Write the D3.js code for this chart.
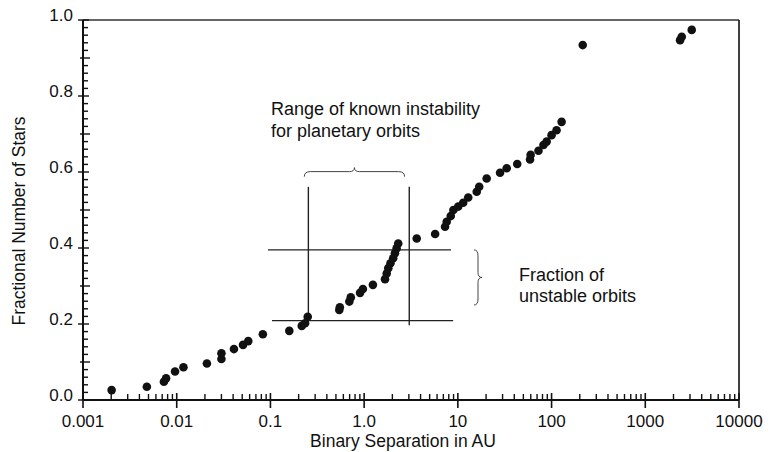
<!DOCTYPE html>
<html lang="en">
<head>
    <meta charset="UTF-8">
    <title>Binary Separation vs Fractional Number of Stars</title>
    <script src="https://d3js.org/d3.v7.min.js"></script>
    <style>
        body {
            margin: 0;
            background: #fff;
        }
        svg text {
            font-family: 'Liberation Sans', Arial, Helvetica, sans-serif;
            fill: #111;
        }
    </style>
</head>
<body>
    <div id="chart"></div>

    <script>
        // Data
        const separations = [
            0.00202, 0.0048, 0.0073, 0.0077, 0.0096, 0.0118, 0.021, 0.030, 0.030, 0.0408,
            0.051, 0.058, 0.083, 0.159, 0.216, 0.234, 0.25, 0.543, 0.55, 0.695,
            0.72, 0.904, 0.97, 1.24, 1.67, 1.74, 1.81, 1.91, 2.04, 2.13,
            2.22, 2.31, 3.64, 5.72, 7.3, 7.6, 8.4, 8.96, 10.1, 11.4,
            12.9, 15.9, 16.9, 20.3, 28.2, 33.2, 43, 58.9, 59.8, 72.5,
            81.9, 88.6, 100, 113, 128, 215, 2350, 2450, 3130
        ];
        const fractions = [
            0.026, 0.035, 0.048, 0.057, 0.075, 0.086, 0.096, 0.108, 0.123, 0.134,
            0.145, 0.155, 0.173, 0.182, 0.195, 0.202, 0.219, 0.237, 0.244, 0.259,
            0.270, 0.282, 0.292, 0.303, 0.318, 0.333, 0.347, 0.360, 0.373, 0.386,
            0.399, 0.412, 0.425, 0.437, 0.456, 0.469, 0.484, 0.500, 0.509, 0.519,
            0.533, 0.548, 0.561, 0.583, 0.598, 0.610, 0.621, 0.633, 0.645, 0.656,
            0.671, 0.680, 0.697, 0.710, 0.732, 0.934, 0.947, 0.956, 0.974
        ];

        const xTickValues = [0.001, 0.01, 0.1, 1, 10, 100, 1000, 10000];
        const xTickLabels = ['0.001', '0.01', '0.1', '1.0', '10', '100', '1000', '10000'];
        const yTickValues = [0, 0.2, 0.4, 0.6, 0.8, 1.0];
        const yTickLabels = ['0.0', '0.2', '0.4', '0.6', '0.8', '1.0'];

        // Annotation geometry, in data units
        const rangeBounds = [0.254, 3.03];          // vertical lines (AU)
        const rangeSpan = [0.197, 0.561];           // their vertical extent
        const fractionBounds = [0.209, 0.395];      // horizontal lines
        const fractionSpanLow = [0.104, 8.9];
        const fractionSpanHigh = [0.094, 8.45];

        const width = 774, height = 452;
        const margin = { top: 20, right: 35, bottom: 52, left: 83 };

        const svg = d3.select('#chart')
            .append('svg')
            .attr('width', width)
            .attr('height', height);

        const x = d3.scaleLog()
            .domain([0.001, 10000])
            .range([margin.left, width - margin.right]);

        const y = d3.scaleLinear()
            .domain([0, 1])
            .range([height - margin.bottom, margin.top]);

        const x0 = x.range()[0], x1 = x.range()[1];
        const y0 = y.range()[0], y1 = y.range()[1];

        // frame
        svg.append('line').attr('x1', x0).attr('x2', x1).attr('y1', y1).attr('y2', y1)
            .attr('stroke', '#333').attr('stroke-width', 1.4);
        svg.append('line').attr('x1', x1).attr('x2', x1).attr('y1', y1).attr('y2', y0)
            .attr('stroke', '#111').attr('stroke-width', 1.6);
        svg.append('line').attr('x1', x0).attr('x2', x1).attr('y1', y0).attr('y2', y0)
            .attr('stroke', '#111').attr('stroke-width', 2);
        svg.append('line').attr('x1', x0).attr('x2', x0).attr('y1', y1).attr('y2', y0)
            .attr('stroke', '#111').attr('stroke-width', 2);

        // x ticks: minor 2..9 inside, decades both sides
        const xMinor = [];
        for (let d = -3; d < 4; d++) {
            for (let m = 2; m <= 9; m++) xMinor.push(m * Math.pow(10, d));
        }
        svg.append('g').selectAll('line')
            .data(xMinor)
            .join('line')
            .attr('x1', d => x(d)).attr('x2', d => x(d))
            .attr('y1', y0).attr('y2', y0 - 6)
            .attr('stroke', '#111').attr('stroke-width', 1.4);

        svg.append('g').selectAll('line')
            .data(xTickValues)
            .join('line')
            .attr('x1', d => x(d)).attr('x2', d => x(d))
            .attr('y1', y0 + 8).attr('y2', y0 - 7)
            .attr('stroke', '#111').attr('stroke-width', 1.6);

        svg.append('g').selectAll('text')
            .data(xTickValues)
            .join('text')
            .attr('x', d => x(d))
            .attr('y', y0 + 27)
            .attr('text-anchor', 'middle')
            .attr('font-size', 17)
            .text((d, i) => xTickLabels[i]);

        // y ticks: minor every 0.02, medium at 0.1, major at 0.2
        const yMinor = d3.range(0, 51).map(i => i / 50);
        svg.append('g').selectAll('line')
            .data(yMinor)
            .join('line')
            .attr('x1', d => {
                const k = Math.round(d * 50);
                if (k % 10 === 0) return x0 - 5;
                if (k % 5 === 0) return x0 - 3;
                return x0;
            })
            .attr('x2', d => {
                const k = Math.round(d * 50);
                if (k % 10 === 0) return x0 + 6;
                if (k % 5 === 0) return x0 + 7;
                return x0 + 5;
            })
            .attr('y1', d => y(d)).attr('y2', d => y(d))
            .attr('stroke', '#111').attr('stroke-width', 1.4);

        svg.append('g').selectAll('text')
            .data(yTickValues)
            .join('text')
            .attr('x', x0 - 10)
            .attr('y', d => y(d) + 1)
            .attr('text-anchor', 'end')
            .attr('font-size', 17)
            .text((d, i) => yTickLabels[i]);

        // axis titles
        svg.append('text')
            .attr('x', 403)
            .attr('y', 447)
            .attr('text-anchor', 'middle')
            .attr('font-size', 17.5)
            .text('Binary Separation in AU');

        svg.append('text')
            .attr('transform', `translate(25,${(y0 + y1) / 2 + 11}) rotate(-90)`)
            .attr('text-anchor', 'middle')
            .attr('font-size', 17.5)
            .text('Fractional Number of Stars');

        // annotation lines
        const ann = svg.append('g').attr('stroke', '#222').attr('stroke-width', 1.4);
        rangeBounds.forEach(v => {
            ann.append('line')
                .attr('x1', x(v)).attr('x2', x(v))
                .attr('y1', y(rangeSpan[1])).attr('y2', y(rangeSpan[0]));
        });
        ann.append('line')
            .attr('x1', x(fractionSpanHigh[0])).attr('x2', x(fractionSpanHigh[1]))
            .attr('y1', y(fractionBounds[1])).attr('y2', y(fractionBounds[1]));
        ann.append('line')
            .attr('x1', x(fractionSpanLow[0])).attr('x2', x(fractionSpanLow[1]))
            .attr('y1', y(fractionBounds[0])).attr('y2', y(fractionBounds[0]));

        // horizontal brace over the range
        const bx0 = x(0.23), bx1 = x(2.7), by = y(0.601), bmid = (bx0 + bx1) / 2;
        svg.append('path')
            .attr('d', `M${bx0},${by + 5} Q${bx0},${by} ${bx0 + 6},${by} L${bmid - 5},${by} Q${bmid},${by} ${bmid},${by - 4}` +
                ` Q${bmid},${by} ${bmid + 5},${by} L${bx1 - 6},${by} Q${bx1},${by} ${bx1},${by + 5}`)
            .attr('fill', 'none')
            .attr('stroke', '#444')
            .attr('stroke-width', 1);

        // vertical brace beside the fraction
        const vx = 474, vy0 = y(fractionBounds[1]), vy1 = y(0.250), vmid = (vy0 + vy1) / 2;
        svg.append('path')
            .attr('d', `M${vx},${vy0} Q${vx + 4},${vy0} ${vx + 4},${vy0 + 6} L${vx + 4},${vmid - 5} Q${vx + 4},${vmid} ${vx + 8},${vmid}` +
                ` Q${vx + 4},${vmid} ${vx + 4},${vmid + 5} L${vx + 4},${vy1 - 6} Q${vx + 4},${vy1} ${vx},${vy1}`)
            .attr('fill', 'none')
            .attr('stroke', '#444')
            .attr('stroke-width', 1);

        // annotation text
        const note1 = svg.append('text').attr('font-size', 18);
        note1.append('tspan').attr('x', 271).attr('y', 115).text('Range of known instability');
        note1.append('tspan').attr('x', 271).attr('y', 137).text('for planetary orbits');

        const note2 = svg.append('text').attr('font-size', 18);
        note2.append('tspan').attr('x', 519).attr('y', 281).text('Fraction of');
        note2.append('tspan').attr('x', 519).attr('y', 302).text('unstable orbits');

        // points
        svg.append('g').selectAll('circle')
            .data(separations)
            .join('circle')
            .attr('cx', d => x(d))
            .attr('cy', (d, i) => y(fractions[i]))
            .attr('r', 4.3)
            .attr('fill', '#111');
    </script>
</body>
</html>
